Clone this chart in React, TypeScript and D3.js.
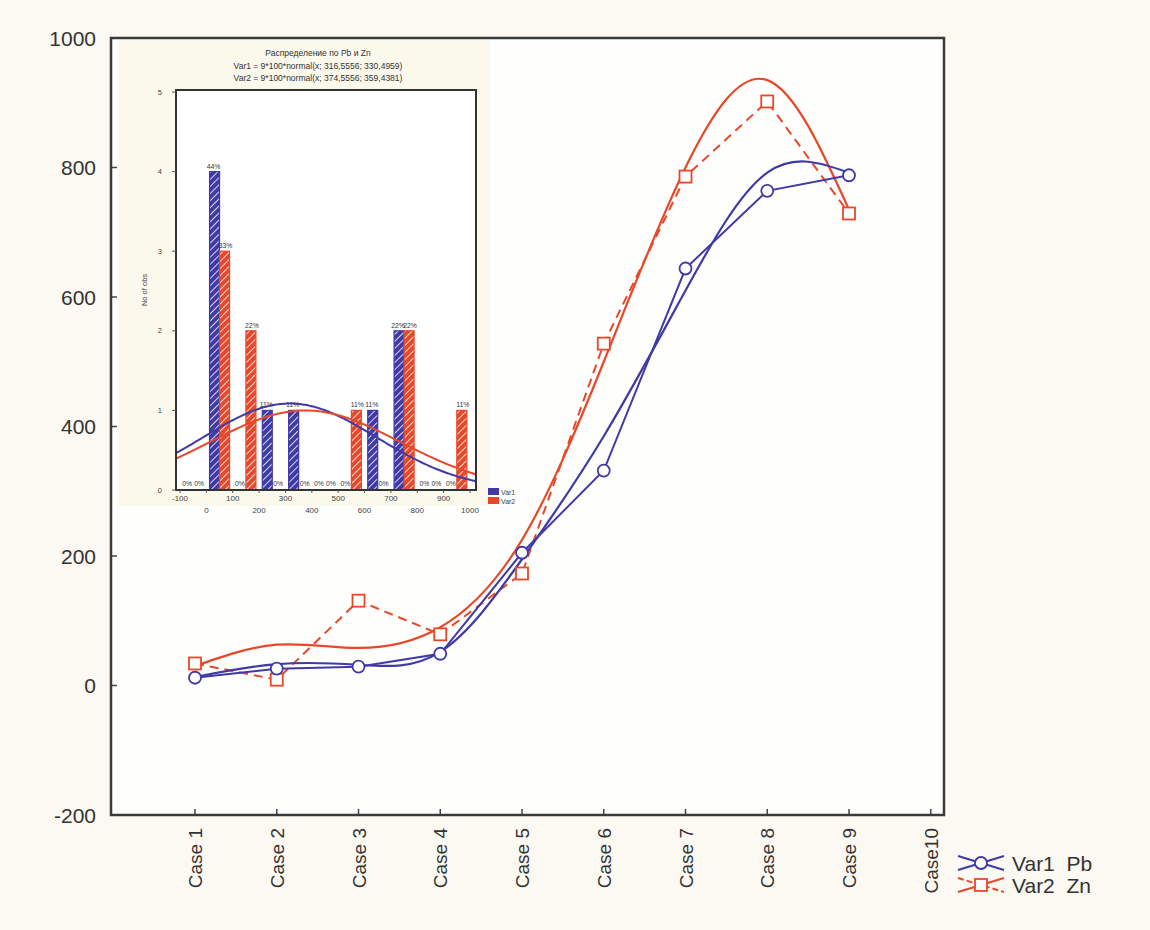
import React from "react";
import * as d3 from "d3";

// case labels and values
const cases = ["Case 1", "Case 2", "Case 3", "Case 4", "Case 5", "Case 6", "Case 7", "Case 8", "Case 9", "Case10"];
const pbValues = [12, 26, 29, 49, 205, 332, 644, 764, 788];
const znValues = [34, 9, 131, 79, 173, 528, 786, 902, 729];
// smoothed fit curves, read at each case
const pbFit = [13, 33, 32, 52, 195, 385, 610, 792, 792];
const znFit = [30, 63, 58, 90, 225, 500, 800, 935, 735];
const yTicks = [-200, 0, 200, 400, 600, 800, 1000];

// inset histogram
const binEdges = [-100, 0, 100, 200, 300, 400, 500, 600, 700, 800, 900, 1000];
const histXTicks = [-100, 0, 100, 200, 300, 400, 500, 600, 700, 800, 900, 1000];
const histYTicks = [0, 1, 2, 3, 4, 5];

const BLUE = "#3f3aa6";
const RED = "#e8482a";
const FONT = "'Liberation Sans', Arial, sans-serif";

const W = 1150;
const H = 930;

const fmt = (v: number) => v.toFixed(4).replace(".", ",");

function stats(vals: number[]) {
  const m = d3.mean(vals) as number;
  const sd = d3.deviation(vals) as number;
  return { m, sd };
}

export default function App() {
  // main plot
  const left = 111, right = 944, top = 38, bottom = 815;
  const x = d3.scaleLinear().domain([1, 9]).range([195, 849]);
  const y = d3.scaleLinear().domain([-200, 1000]).range([bottom, top]);

  const straight = d3.line<number>().x((_, i) => x(i + 1)).y((d) => y(d));
  const smooth = d3.line<number>().x((_, i) => x(i + 1)).y((d) => y(d)).curve(d3.curveNatural);

  // inset
  const iL = 176, iR = 476, iT = 90, iB = 490;
  const hx = d3.scaleLinear().domain([-100, 1000]).range([180, 470]);
  const hy = d3.scaleLinear().domain([0, 5]).range([iB, 92]);
  const binner = d3.bin().domain([-100, 1000]).thresholds(binEdges.slice(1, -1));
  const pbBins = binner(pbValues);
  const znBins = binner(znValues);
  const n = pbValues.length;
  const barW = 10;

  const s1 = stats(pbValues);
  const s2 = stats(znValues);
  const normal = (v: number, m: number, sd: number) =>
    (n * 100 * Math.exp(-((v - m) ** 2) / (2 * sd * sd))) / (sd * Math.sqrt(2 * Math.PI));
  const grid = d3.range(hx.invert(iL), hx.invert(iR) + 1, 5);
  const normLine = (m: number, sd: number) =>
    d3.line<number>().x((v) => hx(v)).y((v) => hy(normal(v, m, sd)))(grid) as string;

  const pct = (c: number) => `${Math.round((c / n) * 100)}%`;

  return (
    <svg width={W} height={H} style={{ position: "absolute", left: 0, top: 0, display: "block" }} fontFamily={FONT}>
      <defs>
        <pattern id="hatchBlue" patternUnits="userSpaceOnUse" width="5" height="5" patternTransform="rotate(45)">
          <rect width="5" height="5" fill={BLUE} />
          <line x1="0" y1="0" x2="0" y2="5" stroke="#fff" strokeWidth="1.6" />
        </pattern>
        <pattern id="hatchRed" patternUnits="userSpaceOnUse" width="5" height="5" patternTransform="rotate(45)">
          <rect width="5" height="5" fill={RED} />
          <line x1="0" y1="0" x2="0" y2="5" stroke="#fff" strokeWidth="1.6" />
        </pattern>
        <clipPath id="insetClip">
          <rect x={iL} y={iT} width={iR - iL} height={iB - iT} />
        </clipPath>
      </defs>

      <rect x={0} y={0} width={W} height={H} fill="#fbf9f1" />
      <rect x={left} y={top} width={right - left} height={bottom - top} fill="#fefefc" />

      {/* y axis */}
      {yTicks.map((t) => (
        <g key={t}>
          <line x1={left} x2={left + 6} y1={y(t)} y2={y(t)} stroke="#444" strokeWidth={1.5} />
          <text x={96} y={y(t)} dy="0.36em" textAnchor="end" fontSize={21} fill="#333">
            {t}
          </text>
        </g>
      ))}
      {/* x axis */}
      {cases.map((c, i) => (
        <g key={c}>
          <line x1={x(i + 1)} x2={x(i + 1)} y1={bottom} y2={bottom - 6} stroke="#444" strokeWidth={1.5} />
          <text
            transform={`translate(${x(i + 1) + 7},${828}) rotate(-90)`}
            textAnchor="end"
            fontSize={19}
            fill="#333"
          >
            {c}
          </text>
        </g>
      ))}

      {/* inset histogram */}
      <rect x={118} y={40} width={372} height={466} fill="#fbf8ec" />
      <rect x={iL} y={iT} width={iR - iL} height={iB - iT} fill="#fff" />
      <g fontSize={8.5} fill="#333" textAnchor="middle">
        <text x={318} y={56}>Распределение по Pb и Zn</text>
        <text x={318} y={69}>{`Var1 = ${n}*100*normal(x; ${fmt(s1.m)}; ${fmt(s1.sd)})`}</text>
        <text x={318} y={81}>{`Var2 = ${n}*100*normal(x; ${fmt(s2.m)}; ${fmt(s2.sd)})`}</text>
      </g>
      {pbBins.map((b, i) => {
        const cx = hx(((b.x0 as number) + (b.x1 as number)) / 2);
        const zb = znBins[i];
        return (
          <g key={i}>
            {b.length > 0 && (
              <rect x={cx - barW} y={hy(b.length)} width={barW} height={iB - hy(b.length)} fill="url(#hatchBlue)" stroke={BLUE} strokeWidth={1.2} />
            )}
            {zb.length > 0 && (
              <rect x={cx} y={hy(zb.length)} width={barW} height={iB - hy(zb.length)} fill="url(#hatchRed)" stroke={RED} strokeWidth={1.2} />
            )}
            <text x={cx - barW / 2 - 1} y={b.length > 0 ? hy(b.length) - 3 : iB - 4} fontSize={6.8} textAnchor="middle" fill="#333">
              {pct(b.length)}
            </text>
            <text x={cx + barW / 2 + 1} y={zb.length > 0 ? hy(zb.length) - 3 : iB - 4} fontSize={6.8} textAnchor="middle" fill="#333">
              {pct(zb.length)}
            </text>
          </g>
        );
      })}
      <g clipPath="url(#insetClip)">
        <path d={normLine(s1.m, s1.sd)} fill="none" stroke={BLUE} strokeWidth={2} />
        <path d={normLine(s2.m, s2.sd)} fill="none" stroke={RED} strokeWidth={2} />
      </g>
      <rect x={iL} y={iT} width={iR - iL} height={iB - iT} fill="none" stroke="#333" strokeWidth={2} />
      {histYTicks.map((t) => (
        <g key={t}>
          <line x1={iL - 4} x2={iL} y1={hy(t)} y2={hy(t)} stroke="#555" />
          <text x={iL - 14} y={hy(t)} dy="0.35em" textAnchor="end" fontSize={7.5} fill="#444">
            {t}
          </text>
        </g>
      ))}
      <text transform={`translate(147,${(iT + iB) / 2}) rotate(-90)`} textAnchor="middle" fontSize={7.5} fill="#444">
        No of obs
      </text>
      {histXTicks.map((t, i) => (
        <g key={t}>
          <line x1={hx(t)} x2={hx(t)} y1={iB} y2={iB + 3} stroke="#555" />
          <text x={hx(t)} y={i % 2 === 0 ? iB + 11 : iB + 23} textAnchor="middle" fontSize={8} fill="#444">
            {t}
          </text>
        </g>
      ))}
      <rect x={488} y={488} width={11} height={7} fill={BLUE} />
      <rect x={488} y={497} width={11} height={7} fill={RED} />
      <text x={501} y={494.5} fontSize={7} fill="#444">Var1</text>
      <text x={501} y={503.5} fontSize={7} fill="#444">Var2</text>

      {/* series */}
      <path d={smooth(znFit) as string} fill="none" stroke={RED} strokeWidth={2.2} />
      <path d={straight(znValues) as string} fill="none" stroke={RED} strokeWidth={2} strokeDasharray="9,6" />
      <path d={smooth(pbFit) as string} fill="none" stroke={BLUE} strokeWidth={2.2} />
      <path d={straight(pbValues) as string} fill="none" stroke={BLUE} strokeWidth={2} />
      {znValues.map((v, i) => (
        <rect key={i} x={x(i + 1) - 6} y={y(v) - 6} width={12} height={12} fill="#fff" stroke={RED} strokeWidth={1.8} />
      ))}
      {pbValues.map((v, i) => (
        <circle key={i} cx={x(i + 1)} cy={y(v)} r={6} fill="#fff" stroke={BLUE} strokeWidth={1.8} />
      ))}

      <rect x={left} y={top} width={right - left} height={bottom - top} fill="none" stroke="#3a3a3a" strokeWidth={2.5} />

      {/* legend */}
      <g>
        <line x1={958} y1={856} x2={1004} y2={870} stroke={BLUE} strokeWidth={2} />
        <line x1={958} y1={870} x2={1004} y2={856} stroke={BLUE} strokeWidth={2} />
        <circle cx={981} cy={863} r={6} fill="#fff" stroke={BLUE} strokeWidth={1.8} />
        <text x={1012} y={871} fontSize={21} fill="#333">Var1&#160;&#160;Pb</text>
        <line x1={958} y1={878} x2={1004} y2={892} stroke={RED} strokeWidth={2} strokeDasharray="6,3" />
        <line x1={958} y1={892} x2={1004} y2={878} stroke={RED} strokeWidth={2} />
        <rect x={975} y={879} width={12} height={12} fill="#fff" stroke={RED} strokeWidth={1.8} />
        <text x={1012} y={893} fontSize={21} fill="#333">Var2&#160;&#160;Zn</text>
      </g>
    </svg>
  );
}
